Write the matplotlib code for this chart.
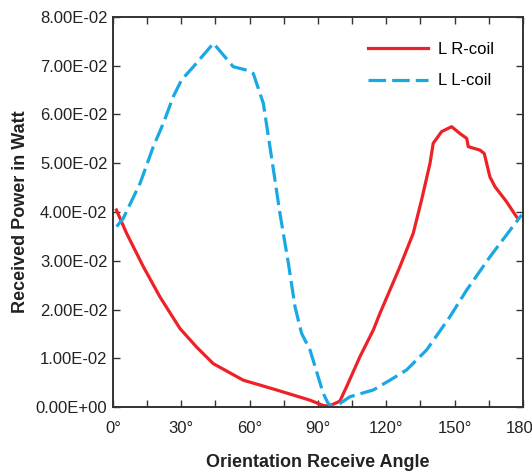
import matplotlib
matplotlib.use('Agg')
import matplotlib.pyplot as plt
import numpy as np

plt.rcParams['font.family'] = ['Liberation Sans', 'DejaVu Sans']

# L R-coil (red, solid)
r_angle = [1.5, 6, 13.3, 20.6, 29.4, 36.7, 44, 57.2, 71.8, 86.5, 92.3, 95, 99.6,
           102.6, 108.4, 114.3, 117.2, 126, 131.8, 135.5, 139.2, 140.6, 144.3,
           148.7, 152.3, 155.3, 156, 161.1, 163, 165.5, 167.7, 172.8, 177.2]
r_power = [0.0404, 0.0356, 0.0288, 0.0226, 0.0161, 0.0123, 0.0089, 0.0055,
           0.0035, 0.0014, 0.0003, 0.0002, 0.0012, 0.0042, 0.0103, 0.0158,
           0.0192, 0.0288, 0.0356, 0.0425, 0.0500, 0.0541, 0.0565, 0.0575,
           0.0561, 0.0551, 0.0534, 0.0527, 0.0520, 0.0472, 0.0452, 0.0421, 0.0390]

# L L-coil (blue, dashed)
l_angle = [1.6, 4.5, 11.9, 17.7, 22.1, 26.5, 30.1, 35.3, 44.1, 52.8, 58.7, 61.6,
           66, 68.9, 71.1, 73.3, 77, 79.9, 82.8, 86.5, 92.3, 94.5, 96.7, 99.6,
           104, 114.3, 121.6, 128.9, 137.7, 147.9, 155.3, 165.5, 179.4]
l_power = [0.0370, 0.0387, 0.0459, 0.0534, 0.0582, 0.0637, 0.0671, 0.0698,
           0.0746, 0.0698, 0.0691, 0.0684, 0.0623, 0.0534, 0.0466, 0.0397,
           0.0295, 0.0206, 0.0151, 0.0117, 0.0028, 0.0007, 0.0000, 0.0007,
           0.0021, 0.0035, 0.0055, 0.0076, 0.0117, 0.0185, 0.0240, 0.0308, 0.0394]

x_ticks = np.arange(0, 181, 15)
x_labels = [f'{t}°' if t % 30 == 0 else '' for t in x_ticks]
y_ticks = np.arange(0, 0.081, 0.01)
y_labels = [f'{t:.2E}' for t in y_ticks]

fig = plt.figure(figsize=(5.32, 4.72), dpi=100)
ax = fig.add_axes([0.2124, 0.1377, 0.7706, 0.8263])

ax.plot(r_angle, r_power, color='#ee2128', lw=2.3, label='L R-coil')
ax.plot(l_angle, l_power, color='#18a8e4', lw=2.3, dashes=(5.5, 1.9), label='L L-coil')

ax.set_xlim(0, 180)
ax.set_ylim(0, 0.08)
ax.set_xticks(x_ticks)
ax.set_xticklabels(x_labels)
ax.set_yticks(y_ticks)
ax.set_yticklabels(y_labels)
ax.tick_params(direction='in', length=5, width=1, color='#333333',
               top=True, right=True, labelsize=12, labelcolor='#222222')
ax.tick_params(axis='x', pad=10)
ax.tick_params(axis='y', pad=4)
for sp in ax.spines.values():
    sp.set_linewidth(1.4)
    sp.set_color('#333333')

ax.set_xlabel('Orientation Receive Angle', fontsize=13, fontweight='bold',
              color='#222222', labelpad=13)
ax.set_ylabel('Received Power in Watt', fontsize=13, fontweight='bold',
              color='#222222', labelpad=5)

ax.legend(loc='upper right', bbox_to_anchor=(0.965, 0.975), frameon=False,
          fontsize=12, handlelength=3.6, handletextpad=0.6, labelspacing=1.0)

fig.savefig('out.png', dpi=100)
